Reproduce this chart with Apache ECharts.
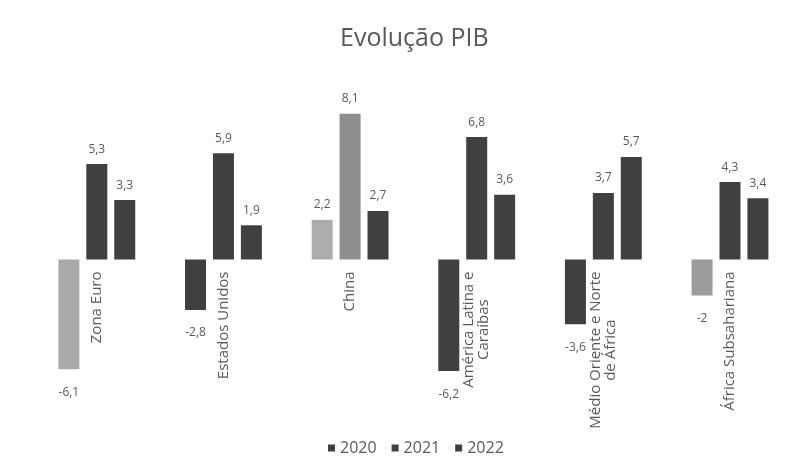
<!DOCTYPE html>
<html>
<head>
<meta charset="utf-8">
<script src="https://cdn.jsdelivr.net/npm/echarts@6/dist/echarts.min.js"></script>
<style>
  html, body { margin: 0; padding: 0; background: #fff; }
  #main { width: 803px; height: 473px; }
</style>
</head>
<body>
<div id="main"></div>
<script>
// dados
var regioes = ["Zona Euro", "Estados Unidos", "China", "América Latina e\nCaraíbas", "Médio Oriente e Norte\nde África", "África Subsahariana"];
var anos = ["2020", "2021", "2022"];
var pib2020 = [-6.1, -2.8, 2.2, -6.2, -3.6, -2];
var pib2021 = [5.3, 5.9, 8.1, 6.8, 3.7, 4.3];
var pib2022 = [3.3, 1.9, 2.7, 3.6, 5.7, 3.4];

// cores (algumas barras aparecem mais claras na imagem)
var corEscura = "#404040";
var coresClaras = {
  "2020": { 0: "#a9a9a9", 2: "#adadad", 5: "#9c9c9c" },
  "2021": { 2: "#8e8e8e" }
};

var myChart = echarts.init(document.getElementById("main"));

function montarDados(ano, valores) {
  return valores.map(function (v, i) {
    var item = {
      value: v,
      label: { position: v >= 0 ? "top" : "bottom", distance: v >= 0 ? 9 : 17 }
    };
    var c = coresClaras[ano] && coresClaras[ano][i];
    if (c) item.itemStyle = { color: c };
    return item;
  });
}

var series = [pib2020, pib2021, pib2022].map(function (valores, k) {
  return {
    name: anos[k],
    type: "bar",
    barWidth: 21,
    barGap: "33%",
    itemStyle: { color: corEscura },
    label: {
      show: true,
      color: "#595959",
      fontSize: 12,
      fontFamily: "Open Sans",
      formatter: function (p) {
        return String(p.value).replace(".", ",");
      }
    },
    data: montarDados(anos[k], valores)
  };
});

var option = {
  animation: false,
  title: {
    text: "Evolução PIB",
    left: 335,
    top: 21,
    textStyle: { color: "#595959", fontSize: 25, fontWeight: "normal", fontFamily: "Open Sans" }
  },
  legend: {
    data: anos,
    bottom: 12,
    left: 323,
    icon: "rect",
    itemWidth: 7,
    itemHeight: 7,
    itemGap: 15,
    textStyle: { color: "#595959", fontSize: 16, fontFamily: "Open Sans" }
  },
  grid: {
    left: 33.5,
    right: 9.7,
    top: 79.5,
    bottom: 69.5,
    outerBoundsMode: "none"
  },
  xAxis: {
    type: "category",
    data: regioes,
    offset: 0,
    axisLine: { show: false, onZero: false },
    axisTick: { show: false },
    axisLabel: {
      interval: 0,
      rotate: 90,
      margin: 12,
      formatter: function (v) {
        return v.split("\n").map(function (l) { return "{c|" + l + "}"; }).join("\n");
      },
      rich: {
        c: { align: "center", color: "#595959", fontSize: 15, fontFamily: "Open Sans", lineHeight: 15 }
      }
    }
  },
  yAxis: {
    type: "value",
    min: -8,
    max: 10,
    axisLine: { show: false },
    axisTick: { show: false },
    axisLabel: { show: false },
    splitLine: { show: false }
  },
  series: series
};

myChart.setOption(option);

// rótulos das categorias colados à linha do zero
var yZero = myChart.convertToPixel({ yAxisIndex: 0 }, 0);
var yBase = myChart.convertToPixel({ yAxisIndex: 0 }, option.yAxis.min);
myChart.setOption({ xAxis: { offset: yZero - yBase } });
</script>
</body>
</html>
